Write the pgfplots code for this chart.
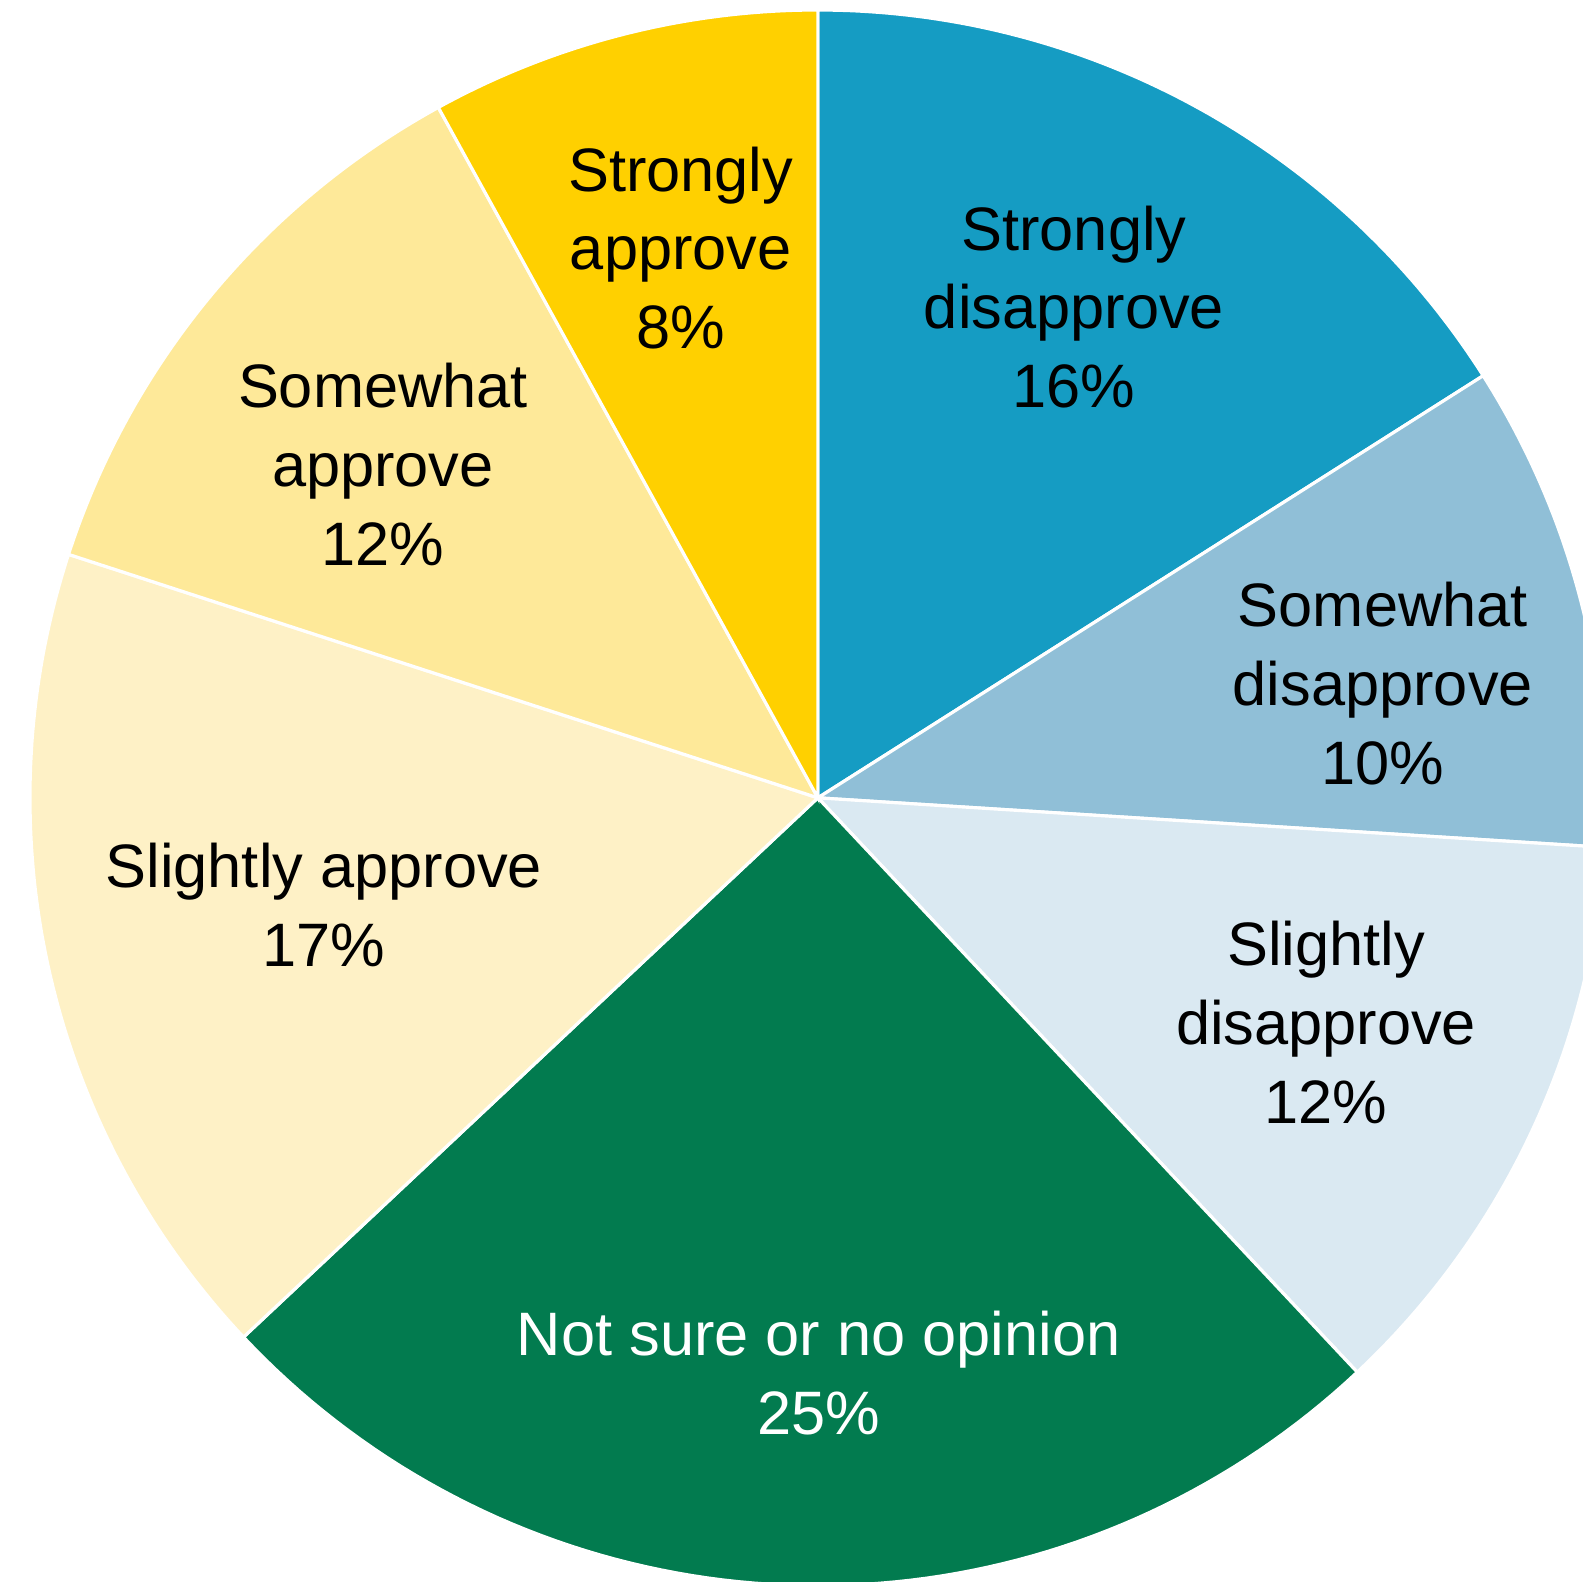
\documentclass[border=0pt]{standalone}
\usepackage{pgfplots}
\pgfplotsset{compat=1.18}
\usepackage{fontspec}
\setmainfont{Liberation Sans}
\definecolor{cSD}{HTML}{159CC3}
\definecolor{cSwD}{HTML}{90BFD7}
\definecolor{cSlD}{HTML}{DAE9F2}
\definecolor{cNS}{HTML}{027B4F}
\definecolor{cSlA}{HTML}{FEF1C6}
\definecolor{cSwA}{HTML}{FEE999}
\definecolor{cStA}{HTML}{FFD000}
\tikzset{lab/.style={font=\fontsize{15.5}{19.9}\selectfont, align=center, inner sep=0pt}}
\begin{document}
\begin{tikzpicture}
\begin{axis}[
  scale only axis, width=400pt, height=399.7pt,
  xmin=-1.038, xmax=0.971, ymin=-0.995, ymax=1.0127,
  hide axis, clip=true,
]
% percentages, clockwise from 12 o'clock
\def\pSD{16}\def\pSwD{10}\def\pSlD{12}\def\pNS{25}\def\pSlA{17}\def\pSwA{12}\def\pStA{8}
\pgfmathsetmacro\aA{90}
\pgfmathsetmacro\aB{\aA-3.6*\pSD}
\pgfmathsetmacro\aC{\aB-3.6*\pSwD}
\pgfmathsetmacro\aD{\aC-3.6*\pSlD}
\pgfmathsetmacro\aE{\aD-3.6*\pNS}
\pgfmathsetmacro\aF{\aE-3.6*\pSlA}
\pgfmathsetmacro\aG{\aF-3.6*\pSwA}
\pgfmathsetmacro\aH{\aG-3.6*\pStA}
\addplot[fill=cSD, draw=white, line width=0.8pt, domain=\aB:\aA, samples=80, variable=\t] ({cos(t)},{sin(t)}) -- (axis cs:0,0) -- cycle;
\addplot[fill=cSwD, draw=white, line width=0.8pt, domain=\aC:\aB, samples=80, variable=\t] ({cos(t)},{sin(t)}) -- (axis cs:0,0) -- cycle;
\addplot[fill=cSlD, draw=white, line width=0.8pt, domain=\aD:\aC, samples=80, variable=\t] ({cos(t)},{sin(t)}) -- (axis cs:0,0) -- cycle;
\addplot[fill=cNS, draw=white, line width=0.8pt, domain=\aE:\aD, samples=80, variable=\t] ({cos(t)},{sin(t)}) -- (axis cs:0,0) -- cycle;
\addplot[fill=cSlA, draw=white, line width=0.8pt, domain=\aF:\aE, samples=80, variable=\t] ({cos(t)},{sin(t)}) -- (axis cs:0,0) -- cycle;
\addplot[fill=cSwA, draw=white, line width=0.8pt, domain=\aG:\aF, samples=80, variable=\t] ({cos(t)},{sin(t)}) -- (axis cs:0,0) -- cycle;
\addplot[fill=cStA, draw=white, line width=0.8pt, domain=\aH:\aG, samples=80, variable=\t] ({cos(t)},{sin(t)}) -- (axis cs:0,0) -- cycle;
\node[lab] at (axis cs:0.325,0.623) {Strongly\\disapprove\\\pSD\%};
\node[lab] at (axis cs:0.717,0.145) {Somewhat\\disapprove\\\pSwD\%};
\node[lab] at (axis cs:0.645,-0.285) {Slightly\\disapprove\\\pSlD\%};
\node[lab, text=white] at (axis cs:0.001,-0.730) {Not sure or no opinion\\\pNS\%};
\node[lab] at (axis cs:-0.627,-0.136) {Slightly approve\\\pSlA\%};
\node[lab] at (axis cs:-0.552,0.423) {Somewhat\\approve\\\pSwA\%};
\node[lab] at (axis cs:-0.174,0.698) {Strongly\\approve\\\pStA\%};
\end{axis}
\pgfresetboundingbox
\path[use as bounding box] (current axis.south west) rectangle (current axis.north east);
\end{tikzpicture}
\end{document}
